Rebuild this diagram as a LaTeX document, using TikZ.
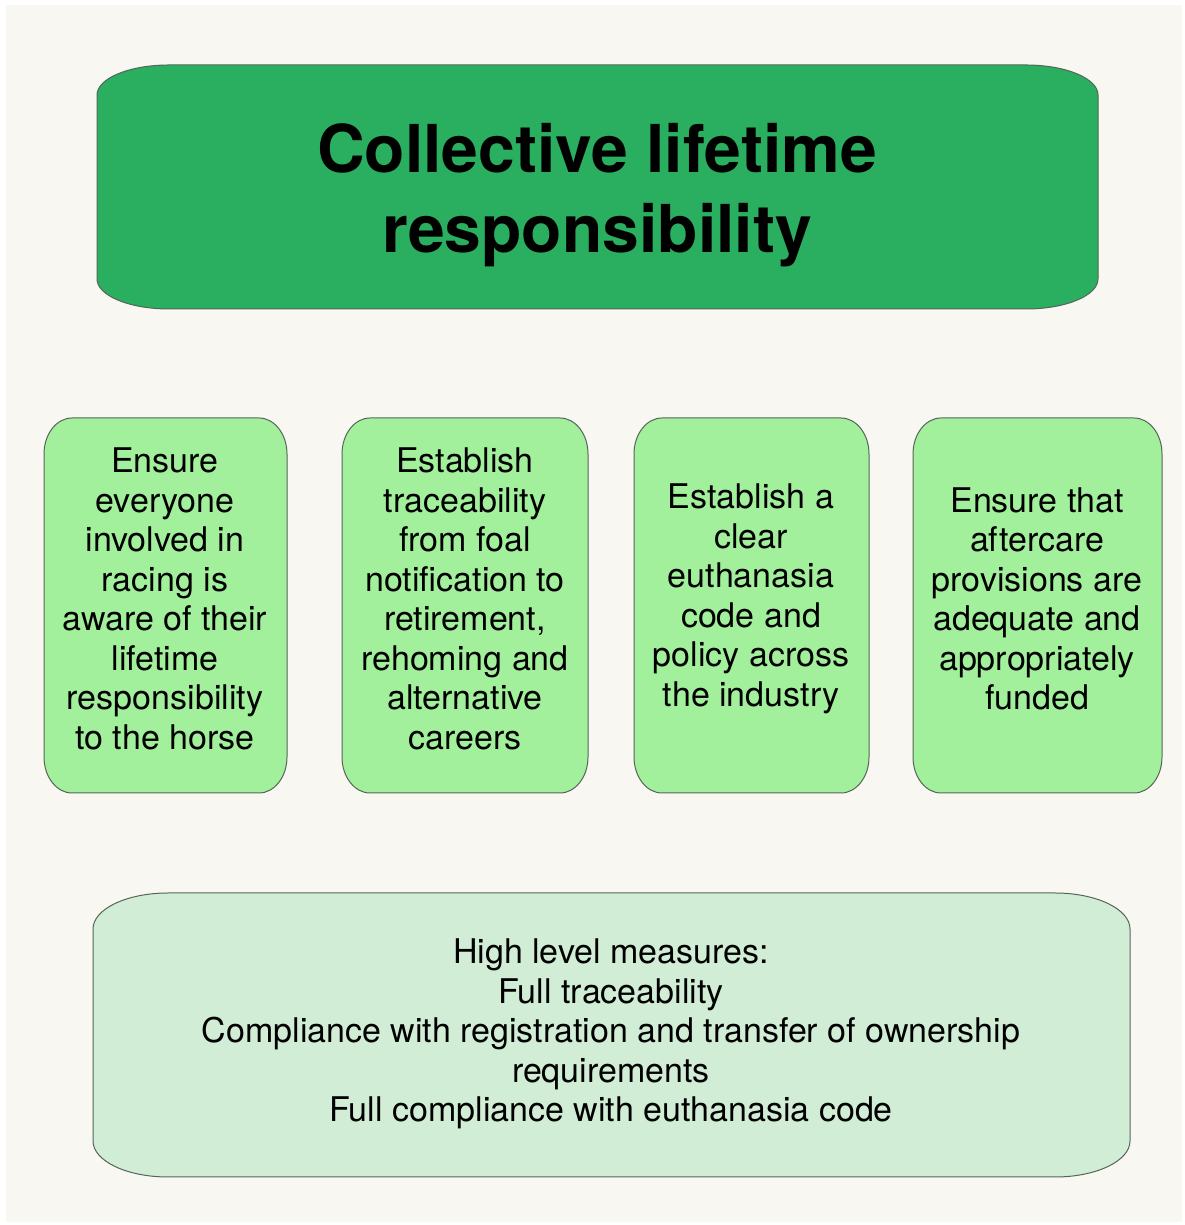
\documentclass[tikz,border=0pt]{standalone}
\usepackage{fontspec}
\setmainfont{TeX Gyre Heros}
\usepackage{tikz}

\definecolor{paper}{HTML}{F8F7F2}
\definecolor{headgreen}{HTML}{2AAE60}
\definecolor{aimgreen}{HTML}{A3F09C}
\definecolor{measgreen}{HTML}{D1EDD5}
\definecolor{edgegray}{HTML}{56655A}

% box with elliptic corners: style, left, bottom, right, top, rx, ry
\newcommand{\ovalbox}[7]{%
	\draw[#1] ({#2},{#3+#7}) -- ({#2},{#5-#7})
		arc[start angle=180, end angle=90, x radius=#6, y radius=#7] -- ({#4-#6},{#5})
		arc[start angle=90, end angle=0, x radius=#6, y radius=#7] -- ({#4},{#3+#7})
		arc[start angle=0, end angle=-90, x radius=#6, y radius=#7] -- ({#2+#6},{#3})
		arc[start angle=-90, end angle=-180, x radius=#6, y radius=#7] -- cycle;
}

\tikzset{
	boxline/.style={draw=edgegray, line width=0.5pt},
	aimtext/.style={align=center, font=\fontsize{17}{19.75}\selectfont},
	headtext/.style={align=center, font=\fontsize{33}{40}\selectfont\bfseries}
}

\begin{document}
\begin{tikzpicture}[x=0.5pt, y=0.5pt]
	\useasboundingbox (0,0) rectangle (1184,1225);
	\fill[white] (0,0) rectangle (1184,1225);
	\fill[paper] (6,3) rectangle (1182,1220);

	% heading
	\ovalbox{boxline, fill=headgreen}{97}{916}{1098}{1160}{72}{30}
	\node[headtext] (head) at (597,1030) {Collective lifetime\\responsibility};

	% aims
	\ovalbox{boxline, fill=aimgreen}{44}{432}{287}{807}{28}{36}
	\ovalbox{boxline, fill=aimgreen}{342}{432}{588}{807}{28}{36}
	\ovalbox{boxline, fill=aimgreen}{634}{432}{869}{807}{28}{36}
	\ovalbox{boxline, fill=aimgreen}{913}{432}{1162}{807}{28}{36}
	\node[aimtext] (aim1) at (165,626) {Ensure\\everyone\\involved in\\racing is\\aware of their\\lifetime\\responsibility\\to the horse};
	\node[aimtext] (aim2) at (465,626) {Establish\\traceability\\from foal\\notification to\\retirement,\\rehoming and\\alternative\\careers};
	\node[aimtext] (aim3) at (751,626) {Establish a\\clear\\euthanasia\\code and\\policy across\\the industry};
	\node[aimtext] (aim4) at (1037,626) {Ensure that\\aftercare\\provisions are\\adequate and\\appropriately\\funded};

	% measures
	\ovalbox{boxline, fill=measgreen}{93}{48}{1130}{332}{75}{36}
	\node[aimtext] (measures) at (611,191) {High level measures:\\Full traceability\\Compliance with registration and transfer of ownership\\requirements\\Full compliance with euthanasia code};
\end{tikzpicture}
\end{document}
